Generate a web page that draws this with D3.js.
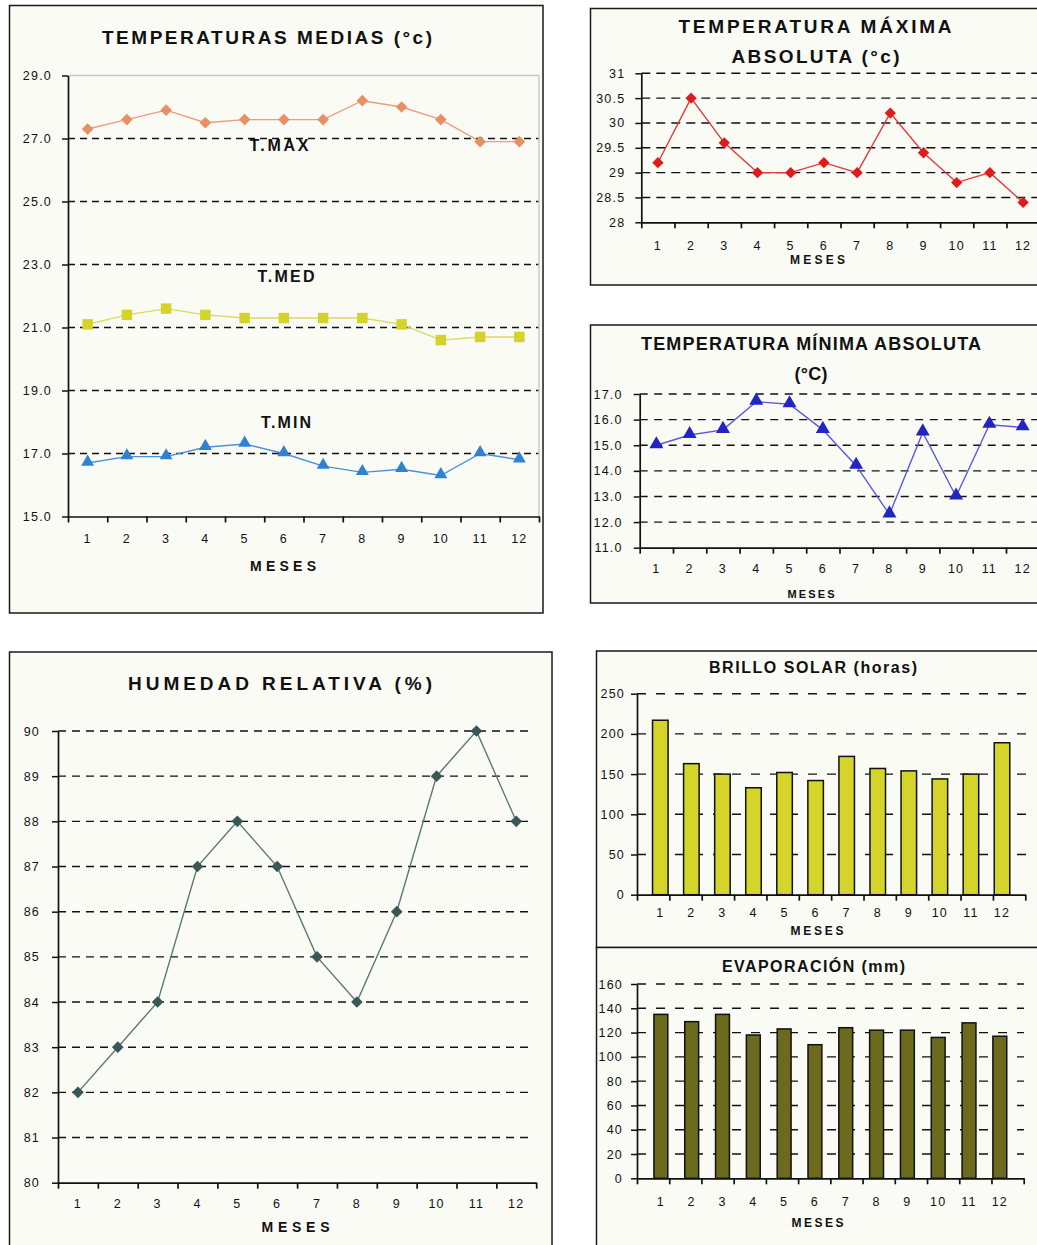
<!DOCTYPE html>
<html>
<head>
<meta charset="utf-8">
<script src="https://cdn.jsdelivr.net/npm/d3@7"></script>
<style>
  html, body { margin: 0; padding: 0; background: #ffffff; }
  svg { display: block; }
  text { font-family: "Liberation Sans", Arial, sans-serif; fill: #111; }
</style>
</head>
<body>
<svg id="chart" width="1037" height="1245"></svg>
<script>
// Monthly climate data
const meses = ["1", "2", "3", "4", "5", "6", "7", "8", "9", "10", "11", "12"];

const tMax = [27.3, 27.6, 27.9, 27.5, 27.6, 27.6, 27.6, 28.2, 28.0, 27.6, 26.9, 26.9];
const tMed = [21.1, 21.4, 21.6, 21.4, 21.3, 21.3, 21.3, 21.3, 21.1, 20.6, 20.7, 20.7];
const tMin = [16.7, 16.9, 16.9, 17.2, 17.3, 17.0, 16.6, 16.4, 16.5, 16.3, 17.0, 16.8];

const tMaxAbs = [29.2, 30.5, 29.6, 29.0, 29.0, 29.2, 29.0, 30.2, 29.4, 28.8, 29.0, 28.4];
const tMinAbs = [15.0, 15.4, 15.6, 16.7, 16.6, 15.6, 14.2, 12.3, 15.5, 13.0, 15.8, 15.7];

const humedad = [82, 83, 84, 87, 88, 87, 85, 84, 86, 89, 90, 88];

const brillo = [217, 163, 150, 133, 152, 142, 172, 157, 154, 144, 150, 189];
const evaporacion = [135, 129, 135, 118, 123, 110, 124, 122, 122, 116, 128, 117];

const ticksMedias = [15, 17, 19, 21, 23, 25, 27, 29];
const ticksMaxAbs = [28, 28.5, 29, 29.5, 30, 30.5, 31];
const ticksMinAbs = [11, 12, 13, 14, 15, 16, 17];
const ticksHumedad = [80, 81, 82, 83, 84, 85, 86, 87, 88, 89, 90];
const ticksBrillo = [0, 50, 100, 150, 200, 250];
const ticksEvap = [0, 20, 40, 60, 80, 100, 120, 140, 160];

const svg = d3.select("#chart");
const PANEL_FILL = "#fbfbf6";

function panel(x0, y0, x1, y1) {
  svg.append("rect")
    .attr("x", x0).attr("y", y0)
    .attr("width", x1 - x0).attr("height", y1 - y0)
    .attr("fill", PANEL_FILL)
    .attr("stroke", "#1a1a1a").attr("stroke-width", 1.5);
}

function label(g, txt, x, y, opt) {
  const t = g.append("text")
    .attr("x", x).attr("y", y)
    .attr("text-anchor", "middle")
    .attr("font-size", opt.size)
    .attr("font-weight", opt.bold ? "bold" : "normal")
    .text(txt);
  if (opt.width) t.attr("textLength", opt.width).attr("lengthAdjust", "spacing");
  return t;
}

// Shared frame: y axis with dashed grid, x axis with ticks between months
function frame(g, o) {
  const y = d3.scaleLinear().domain(o.domain).range([o.bottom, o.top]);
  const xb = d3.scaleBand().domain(meses).range([o.left, o.right]).padding(o.pad || 0);
  const xl = d3.scaleLinear().domain([0, meses.length]).range([o.left, o.right]);

  // grid
  g.append("g").selectAll("line")
    .data(o.grid)
    .join("line")
    .attr("x1", o.left).attr("x2", o.gridEnd)
    .attr("y1", d => y(d)).attr("y2", d => y(d))
    .attr("stroke", "#111").attr("stroke-width", 1.4)
    .attr("stroke-dasharray", o.dash);

  if (o.frameTop) {
    g.append("line").attr("x1", o.left).attr("x2", o.right)
      .attr("y1", o.top).attr("y2", o.top)
      .attr("stroke", "#c8c8c8").attr("stroke-width", 1.5);
    g.append("line").attr("x1", o.right).attr("x2", o.right)
      .attr("y1", o.top).attr("y2", o.bottom)
      .attr("stroke", "#c8c8c8").attr("stroke-width", 1.5);
  }

  // y axis
  const ya = g.append("g").attr("transform", `translate(${o.left},0)`)
    .call(d3.axisLeft(y).tickValues(o.ticks).tickFormat(o.fmt)
      .tickSize(6).tickSizeOuter(0).tickPadding(o.ypad));
  ya.select(".domain").attr("stroke", "#111").attr("stroke-width", 1.7);
  ya.selectAll(".tick line").attr("stroke", "#111").attr("stroke-width", 1.5);
  ya.selectAll(".tick text")
    .attr("font-size", o.fs).attr("fill", "#111")
    .style("font-family", "'Liberation Sans', Arial, sans-serif")
    .style("letter-spacing", "1.2px");

  // x axis with ticks on month boundaries
  const xa = g.append("g").attr("transform", `translate(0,${o.bottom})`)
    .call(d3.axisBottom(xl).tickValues(d3.range(meses.length + 1)).tickFormat("")
      .tickSize(6).tickSizeOuter(0));
  xa.select(".domain").attr("stroke", "#111").attr("stroke-width", 1.7);
  xa.selectAll(".tick line").attr("stroke", "#111").attr("stroke-width", 1.7);

  g.append("g").selectAll("text")
    .data(meses)
    .join("text")
    .attr("x", d => xb(d) + xb.bandwidth() / 2)
    .attr("y", o.xLabelY)
    .attr("text-anchor", "middle")
    .attr("dominant-baseline", "central")
    .attr("font-size", o.fs)
    .style("letter-spacing", "1.2px")
    .text(d => d);

  label(g, "MESES", o.mesesX, o.mesesY, { size: o.mesesSize, bold: true, width: o.mesesW })
    .attr("dominant-baseline", "central");

  return { y, xb };
}

function series(g, sc, values, s) {
  const cx = i => sc.xb(meses[i]) + sc.xb.bandwidth() / 2;
  const line = d3.line().x((d, i) => cx(i)).y(d => sc.y(d));
  g.append("path").datum(values)
    .attr("d", line)
    .attr("fill", "none")
    .attr("stroke", s.line).attr("stroke-width", s.lw || 1.4);
  const sym = d3.symbol().type(s.type).size(s.size);
  g.append("g").selectAll("path")
    .data(values)
    .join("path")
    .attr("d", sym)
    .attr("transform", (d, i) => `translate(${cx(i)},${sc.y(d) + (s.dy || 0)}) rotate(${s.rot || 0})`)
    .attr("fill", s.color);
}

function bars(g, sc, values, color) {
  g.append("g").selectAll("rect")
    .data(values)
    .join("rect")
    .attr("x", (d, i) => sc.xb(meses[i]))
    .attr("y", d => sc.y(d))
    .attr("width", sc.xb.bandwidth())
    .attr("height", d => sc.y(0) - sc.y(d))
    .attr("fill", color)
    .attr("stroke", "#111").attr("stroke-width", 1.5);
}

// ---------- TEMPERATURAS MEDIAS ----------
panel(9.5, 5.5, 543, 613);
{
  const g = svg.append("g");
  label(g, "TEMPERATURAS MEDIAS (°c)", 267, 43.5, { size: 19, bold: true, width: 330 });
  const sc = frame(g, {
    domain: [15, 29], top: 75.5, bottom: 516.5, left: 68, right: 539,
    ticks: ticksMedias, fmt: d3.format(".1f"), grid: [17, 19, 21, 23, 25, 27],
    gridEnd: 539, dash: "7,5", ypad: 10, fs: 12.5, frameTop: true,
    xLabelY: 539, mesesX: 283, mesesY: 566, mesesSize: 14, mesesW: 66
  });
  label(g, "T.MAX", 279, 150.5, { size: 16, bold: true, width: 59 });
  label(g, "T.MED", 286, 281.5, { size: 16, bold: true, width: 57 });
  label(g, "T.MIN", 286, 427.5, { size: 16, bold: true, width: 50 });
  series(g, sc, tMax, { type: d3.symbolSquare, size: 68, rot: 45, color: "#e88f66", line: "#ec9d7a" });
  series(g, sc, tMed, { type: d3.symbolSquare, size: 110, color: "#d3d32a", line: "#dada60" });
  series(g, sc, tMin, { type: d3.symbolTriangle, size: 72, dy: -1, color: "#2f82d2", line: "#4a92d8" });
}

// ---------- TEMPERATURA MÁXIMA ABSOLUTA ----------
panel(590.5, 8.5, 1045, 285);
{
  const g = svg.append("g");
  label(g, "TEMPERATURA MÁXIMA", 815, 32.5, { size: 19, bold: true, width: 273 });
  label(g, "ABSOLUTA (°c)", 815.5, 62.5, { size: 19, bold: true, width: 168 });
  const sc = frame(g, {
    domain: [28, 31], top: 73.3, bottom: 222.3, left: 641.3, right: 1039.7,
    ticks: ticksMaxAbs, fmt: d3.format(""), grid: [28.5, 29, 29.5, 30, 30.5, 31],
    gridEnd: 1040, dash: "9,6", ypad: 10, fs: 12.5,
    xLabelY: 246, mesesX: 817.5, mesesY: 259.5, mesesSize: 12, mesesW: 55
  });
  series(g, sc, tMaxAbs, { type: d3.symbolSquare, size: 64, rot: 45, color: "#dd1c1c", line: "#e33a3a" });
}

// ---------- TEMPERATURA MÍNIMA ABSOLUTA ----------
panel(590.5, 325, 1045, 603);
{
  const g = svg.append("g");
  label(g, "TEMPERATURA MÍNIMA ABSOLUTA", 811, 349.5, { size: 18, bold: true, width: 340 });
  label(g, "(°C)", 811, 380, { size: 18, bold: true, width: 33 });
  const sc = frame(g, {
    domain: [11, 17], top: 394, bottom: 547.7, left: 639.7, right: 1039.3,
    ticks: ticksMinAbs, fmt: d3.format(".1f"), grid: [12, 13, 14, 15, 16, 17],
    gridEnd: 1040, dash: "8,6.5", ypad: 11, fs: 12.5,
    xLabelY: 569, mesesX: 811, mesesY: 594, mesesSize: 11, mesesW: 47
  });
  series(g, sc, tMinAbs, { type: d3.symbolTriangle, size: 85, dy: -1, color: "#2424c4", line: "#5a5adc" });
}

// ---------- HUMEDAD RELATIVA ----------
panel(9.5, 652, 552, 1252);
{
  const g = svg.append("g");
  label(g, "HUMEDAD RELATIVA (%)", 280, 689.5, { size: 19, bold: true, width: 304 });
  const sc = frame(g, {
    domain: [80, 90], top: 731, bottom: 1182.7, left: 58, right: 536.2,
    ticks: ticksHumedad, fmt: d3.format("d"), grid: [81, 82, 83, 84, 85, 86, 87, 88, 89, 90],
    gridEnd: 530, dash: "8,6", ypad: 12, fs: 12.5,
    xLabelY: 1204, mesesX: 295.5, mesesY: 1227, mesesSize: 14, mesesW: 68
  });
  series(g, sc, humedad, { type: d3.symbolSquare, size: 68, rot: 45, color: "#395855", line: "#5a7875" });
}

// ---------- BRILLO SOLAR ----------
panel(596.5, 651, 1045, 947.5);
{
  const g = svg.append("g");
  label(g, "BRILLO SOLAR (horas)", 813, 673, { size: 16, bold: true, width: 208 });
  const sc = frame(g, {
    domain: [0, 250], top: 693.7, bottom: 894.7, left: 637, right: 1025.3, pad: 0.5,
    ticks: ticksBrillo, fmt: d3.format("d"), grid: [50, 100, 150, 200, 250],
    gridEnd: 1027, dash: "9,10", ypad: 6, fs: 12.5,
    xLabelY: 913, mesesX: 817, mesesY: 930.7, mesesSize: 12, mesesW: 53
  });
  bars(g, sc, brillo, "#d4d42a");
}

// ---------- EVAPORACIÓN ----------
panel(596.5, 947.5, 1045, 1252);
{
  const g = svg.append("g");
  label(g, "EVAPORACIÓN (mm)", 813.5, 972, { size: 16, bold: true, width: 183 });
  const sc = frame(g, {
    domain: [0, 160], top: 984, bottom: 1178.3, left: 637, right: 1023.7, pad: 0.55,
    ticks: ticksEvap, fmt: d3.format("d"), grid: [20, 40, 60, 80, 100, 120, 140, 160],
    gridEnd: 1024, dash: "9,10", ypad: 8, fs: 12.5,
    xLabelY: 1201.7, mesesX: 817.5, mesesY: 1223.3, mesesSize: 12, mesesW: 52
  });
  bars(g, sc, evaporacion, "#6c6a1c");
}
</script>
</body>
</html>
